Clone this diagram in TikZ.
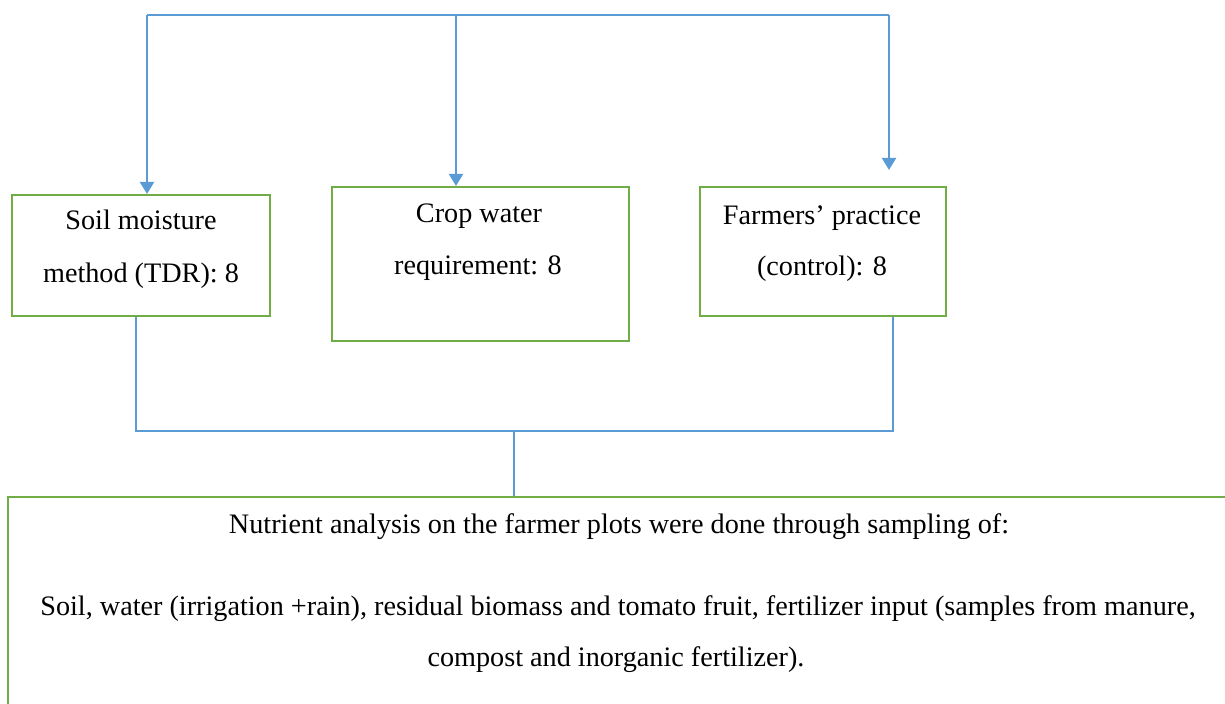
\documentclass[tikz,border=0pt]{standalone}
\usepackage{fontspec}
\setmainfont{Liberation Serif}
\usetikzlibrary{arrows.meta}
\definecolor{boxgreen}{RGB}{112,173,71}
\definecolor{lineblue}{RGB}{91,155,213}
\begin{document}
\begin{tikzpicture}[x=0.5pt,y=-0.5pt,
  box/.style={draw=boxgreen, line width=1pt, rectangle, inner sep=0pt},
  txt/.style={anchor=base, inner sep=0pt, font=\fontsize{14.1pt}{17pt}\selectfont},
  link/.style={draw=lineblue, line width=1pt},
  tip/.style={-{Triangle[length=6pt,width=7pt]}}]
\useasboundingbox (0,0) rectangle (1225,704);
% boxes
\node[box, minimum width=129pt, minimum height=60.5pt] (b1) at (141,255.5) {};
\node[box, minimum width=148.5pt, minimum height=77pt] (b2) at (480.5,264) {};
\node[box, minimum width=123pt, minimum height=64.5pt] (b3) at (823,251.5) {};
\node[box, minimum width=610pt, minimum height=116.5pt] (big) at (618,613.5) {};
% texts
\node[txt] (b1a) at (141,230) {Soil moisture};
\node[txt] (b1b) at (141,283) {method (TDR): 8};
\node[txt] (b2a) at (479,223) {Crop water};
\node[txt] (b2b) at (478,275) {requirement: 8};
\node[txt] (b3a) at (822,225) {Farmers’ practice};
\node[txt] (b3b) at (822,276) {(control): 8};
\node[txt] (g1) at (619,534) {Nutrient analysis on the farmer plots were done through sampling of:};
\node[txt] (g2) at (618,616) {Soil, water (irrigation +rain), residual biomass and tomato fruit, fertilizer input (samples from manure,};
\node[txt] (g3) at (616,667) {compost and inorganic fertilizer).};
% top distribution
\coordinate (t1) at (147,15);
\coordinate (t2) at (456,15);
\coordinate (t3) at (889,15);
\draw[link] (t1) -- (t3);
\draw[link, tip] (t1) -- (t1 |- b1.north);
\draw[link, tip] (t2) -- (t2 |- b2.north);
\draw[link, tip, shorten >=8pt] (t3) -- (t3 |- b3.north);
% bottom merge
\coordinate (j1) at (136,431);
\coordinate (j3) at (893,431);
\coordinate (jm) at (514,431);
\draw[link] (j1 |- b1.south) -- (j1) -- (j3) -- (j3 |- b3.south);
\draw[link] (jm) -- (jm |- big.north);
\end{tikzpicture}
\end{document}
